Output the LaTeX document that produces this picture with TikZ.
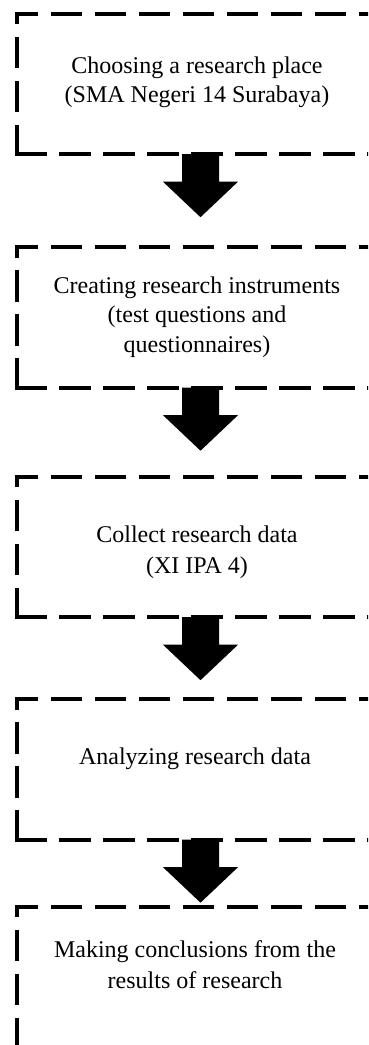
\documentclass[tikz,border=0pt]{standalone}
\usepackage{fontspec}
\setmainfont{Liberation Serif}
\usetikzlibrary{calc}

\tikzset{
  stage/.style={rectangle, inner sep=0pt, minimum width=366pt, minimum height=140pt},
  frame/.style={line width=4pt, line cap=rect, line join=miter,
                dash pattern=on 27.5pt off 16.5pt},
  stagetext/.style={anchor=base, inner sep=0pt, font=\fontsize{24}{30}\selectfont},
  blockarrow/.style={fill=black, draw=none},
}

% dashed frame: left and top edges from the lower left corner, bottom edge separately
\newcommand{\stageframe}[1]{%
  \draw[frame] (#1.south west) -- (#1.north west) -- (#1.north east);
  \draw[frame] (#1.south west) -- (#1.south east);
}
% thick downward block arrow hanging from the bottom edge of a stage
\newcommand{\stagearrow}[1]{%
  \fill[blockarrow]
    ($(#1.south)+(-18.5,0)$) -- ($(#1.south)+(18.5,0)$) --
    ($(#1.south)+(18.5,27.5)$) -- ($(#1.south)+(37.5,27.5)$) --
    ($(#1.south)+(0,63)$) --
    ($(#1.south)+(-37.5,27.5)$) -- ($(#1.south)+(-18.5,27.5)$) -- cycle;
}

\begin{document}
\begin{tikzpicture}[x=1pt, y=-1pt]
  \useasboundingbox (0,0) rectangle (368,1045);
  \clip (0,0) rectangle (368,1045);

  % stages
  \node[stage] (s1) at (200.5,84) {};
  \node[stage] (s2) at (200.5,317.5) {};
  \node[stage] (s3) at (200.5,547) {};
  \node[stage] (s4) at (200.5,769.5) {};
  \node[stage] (s5) at (200.5,977) {};

  \stageframe{s1}
  \stageframe{s2}
  \stageframe{s3}
  \stageframe{s4}
  \stageframe{s5}

  % stage texts
  \node[stagetext] (t1a) at (197,73)  {Choosing a research place};
  \node[stagetext] (t1b) at (197,102) {(SMA Negeri 14 Surabaya)};

  \node[stagetext] (t2a) at (197,293) {Creating research instruments};
  \node[stagetext] (t2b) at (197,322) {(test questions and};
  \node[stagetext] (t2c) at (197,352) {questionnaires)};

  \node[stagetext] (t3a) at (197,542) {Collect research data};
  \node[stagetext] (t3b) at (197,573) {(XI IPA 4)};

  \node[stagetext] (t4a) at (195,764) {Analyzing research data};

  \node[stagetext] (t5a) at (195,957) {Making conclusions from the};
  \node[stagetext] (t5b) at (195,988) {results of research};

  % flow arrows
  \stagearrow{s1}
  \stagearrow{s2}
  \stagearrow{s3}
  \stagearrow{s4}
\end{tikzpicture}
\end{document}
